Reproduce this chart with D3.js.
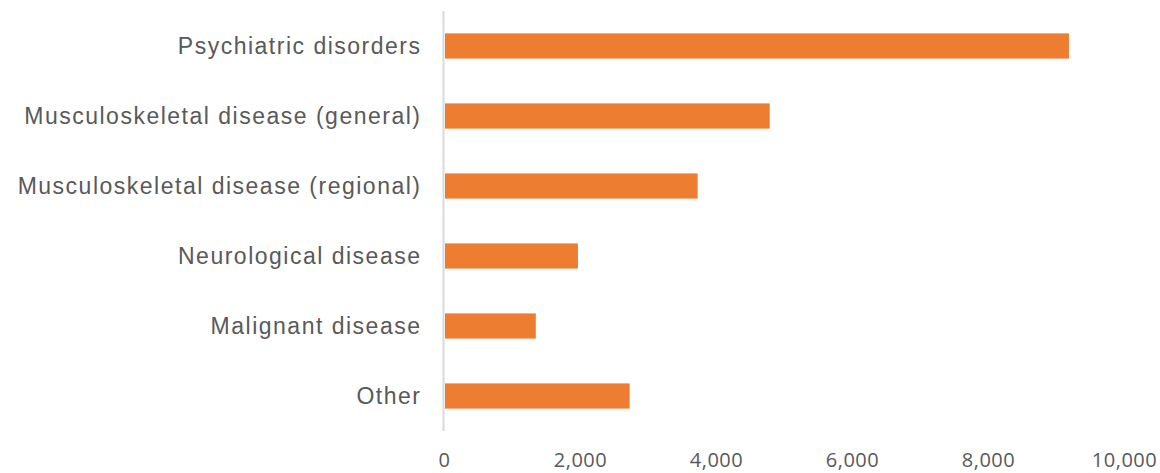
<!DOCTYPE html>
<html>
<head>
<meta charset="utf-8">
<script src="https://cdn.jsdelivr.net/npm/d3@7"></script>
<style>
  body { margin: 0; background: #fff; }
</style>
</head>
<body>
<svg id="chart"></svg>
<script>
var categories = [
  'Psychiatric disorders',
  'Musculoskeletal disease (general)',
  'Musculoskeletal disease (regional)',
  'Neurological disease',
  'Malignant disease',
  'Other'
];
var values = [9190, 4790, 3730, 1970, 1350, 2730];
var tickValues = [0, 2000, 4000, 6000, 8000, 10000];

var width = 1160,
  height = 473;
var margin = { top: 11, right: 36, bottom: 42, left: 444 };

var svg = d3.select('svg#chart')
  .attr('width', width)
  .attr('height', height);

var x = d3.scaleLinear()
  .domain([0, 10000])
  .range([margin.left, width - margin.right]);

var y = d3.scaleBand()
  .domain(categories)
  .range([margin.top, height - margin.bottom])
  .paddingInner(0.64)
  .paddingOuter(0.32);

// bars
svg.selectAll('rect.bar')
  .data(categories)
  .enter()
  .append('rect')
    .attr('class', 'bar')
    .attr('x', x(0) + 1)
    .attr('y', function (d) { return y(d); })
    .attr('width', function (d, i) { return x(values[i]) - x(0) - 1; })
    .attr('height', y.bandwidth())
    .style('fill', '#ed7d31');

// vertical axis line
svg.append('line')
  .attr('x1', x(0) - 0.5)
  .attr('x2', x(0) - 0.5)
  .attr('y1', margin.top)
  .attr('y2', height - margin.bottom)
  .style('stroke', '#d9d9d9')
  .style('stroke-width', 2);

// category labels (excel-style loose spacing)
svg.selectAll('text.cat')
  .data(categories)
  .enter()
  .append('text')
    .attr('class', 'cat')
    .attr('x', x(0) - 22.5)
    .attr('y', function (d) { return y(d) + y.bandwidth() / 2; })
    .attr('dy', '0.35em')
    .attr('text-anchor', 'end')
    .style('font-family', '"Liberation Sans", Arial, sans-serif')
    .style('font-size', '23px')
    .style('letter-spacing', '1.5px')
    .style('fill', '#595959')
    .text(function (d) { return d; });

// x tick labels
var xAxis = d3.axisBottom(x)
  .tickValues(tickValues)
  .tickFormat(d3.format(','))
  .tickSize(0)
  .tickPadding(0);

var gx = svg.append('g')
  .attr('transform', 'translate(0,' + (height - 6) + ')')
  .call(xAxis);

gx.select('.domain').remove();
gx.selectAll('text')
  .attr('dy', '0')
  .style('font-family', '"Open Sans", Lato, sans-serif')
  .style('font-size', '20px')
  .style('letter-spacing', '0.5px')
  .style('fill', '#595959');
</script>
</body>
</html>
